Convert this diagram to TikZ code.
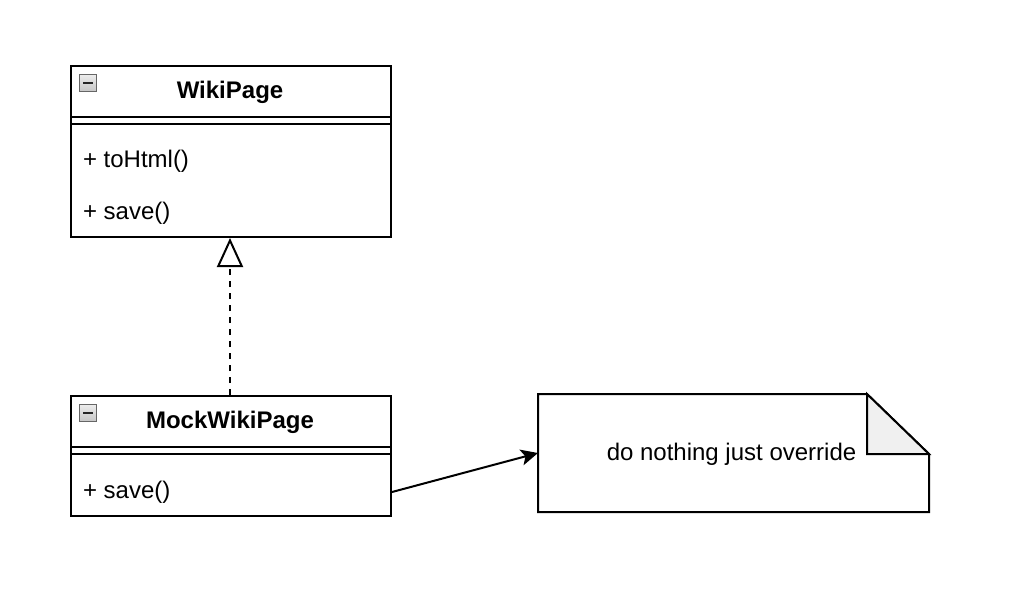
\documentclass[tikz,border=0pt]{standalone}
\usepackage{fontspec}
\setmainfont{Liberation Sans}
\usetikzlibrary{arrows.meta,positioning,calc}

\tikzset{
  classbox/.style={draw, line width=2pt, minimum width=320pt, anchor=north west, inner sep=0pt},
  member/.style={anchor=west, inner sep=0pt},
  foldicon/.style={draw=gray!80!black, line width=1pt, top color=gray!15, bottom color=gray!45, minimum size=17pt, inner sep=0pt},
}

\begin{document}
\begin{tikzpicture}[x=1pt, y=-1pt, >=Stealth, line width=2pt, font=\fontsize{24}{28}\selectfont]
\useasboundingbox (0,0) rectangle (1030,606);

% class WikiPage
\node[classbox, minimum height=171pt] (wiki) at (70,65) {};
\draw ($(wiki.north west)+(0,52)$) -- ($(wiki.north east)+(0,52)$);
\draw ($(wiki.north west)+(0,59)$) -- ($(wiki.north east)+(0,59)$);
\node[font=\fontsize{24}{28}\selectfont\bfseries] (wikiname) at (230,92) {WikiPage};
\node[foldicon] (wikiicon) at (88,83) {};
\draw[line width=2.5pt, black!85] ($(wikiicon)+(-5,0)$) -- ($(wikiicon)+(5,0)$);
\node[member] (tohtml) at (82,161) {+ toHtml()};
\node[member] (wikisave) at (82,213) {+ save()};

% class MockWikiPage
\node[classbox, minimum height=120pt] (mock) at (70,395) {};
\draw ($(mock.north west)+(0,52)$) -- ($(mock.north east)+(0,52)$);
\draw ($(mock.north west)+(0,59)$) -- ($(mock.north east)+(0,59)$);
\node[font=\fontsize{24}{28}\selectfont\bfseries] (mockname) at (230,422) {MockWikiPage};
\node[foldicon] (mockicon) at (88,413) {};
\draw[line width=2.5pt, black!85] ($(mockicon)+(-5,0)$) -- ($(mockicon)+(5,0)$);
\node[member] (mocksave) at (82,492) {+ save()};

% note
\node[minimum width=389pt, minimum height=116pt, inner sep=0pt] (note) at (733.5,453) {};
\draw[fill=white] (note.north west) -- ($(note.north east)+(-62,0)$) -- ($(note.north east)+(0,60)$)
  -- (note.south east) -- (note.south west) -- cycle;
\draw[fill=gray!12, line join=miter] ($(note.north east)+(-62,0)$) -- ($(note.north east)+(-62,60)$)
  -- ($(note.north east)+(0,60)$) -- cycle;
\node[inner sep=0pt] (notetext) at (731.5,454) {do nothing just override};

% realization
\draw[dash pattern=on 6pt off 6pt, -{Triangle[open, length=29pt, width=26pt]}] (mock.north -| wikiname) -- (wiki.south -| wikiname);

% note link
\draw[->, -{Stealth[length=17pt, width=16pt, inset=4pt]}] (mock.east |- mocksave) -- (note.west);
\end{tikzpicture}
\end{document}
